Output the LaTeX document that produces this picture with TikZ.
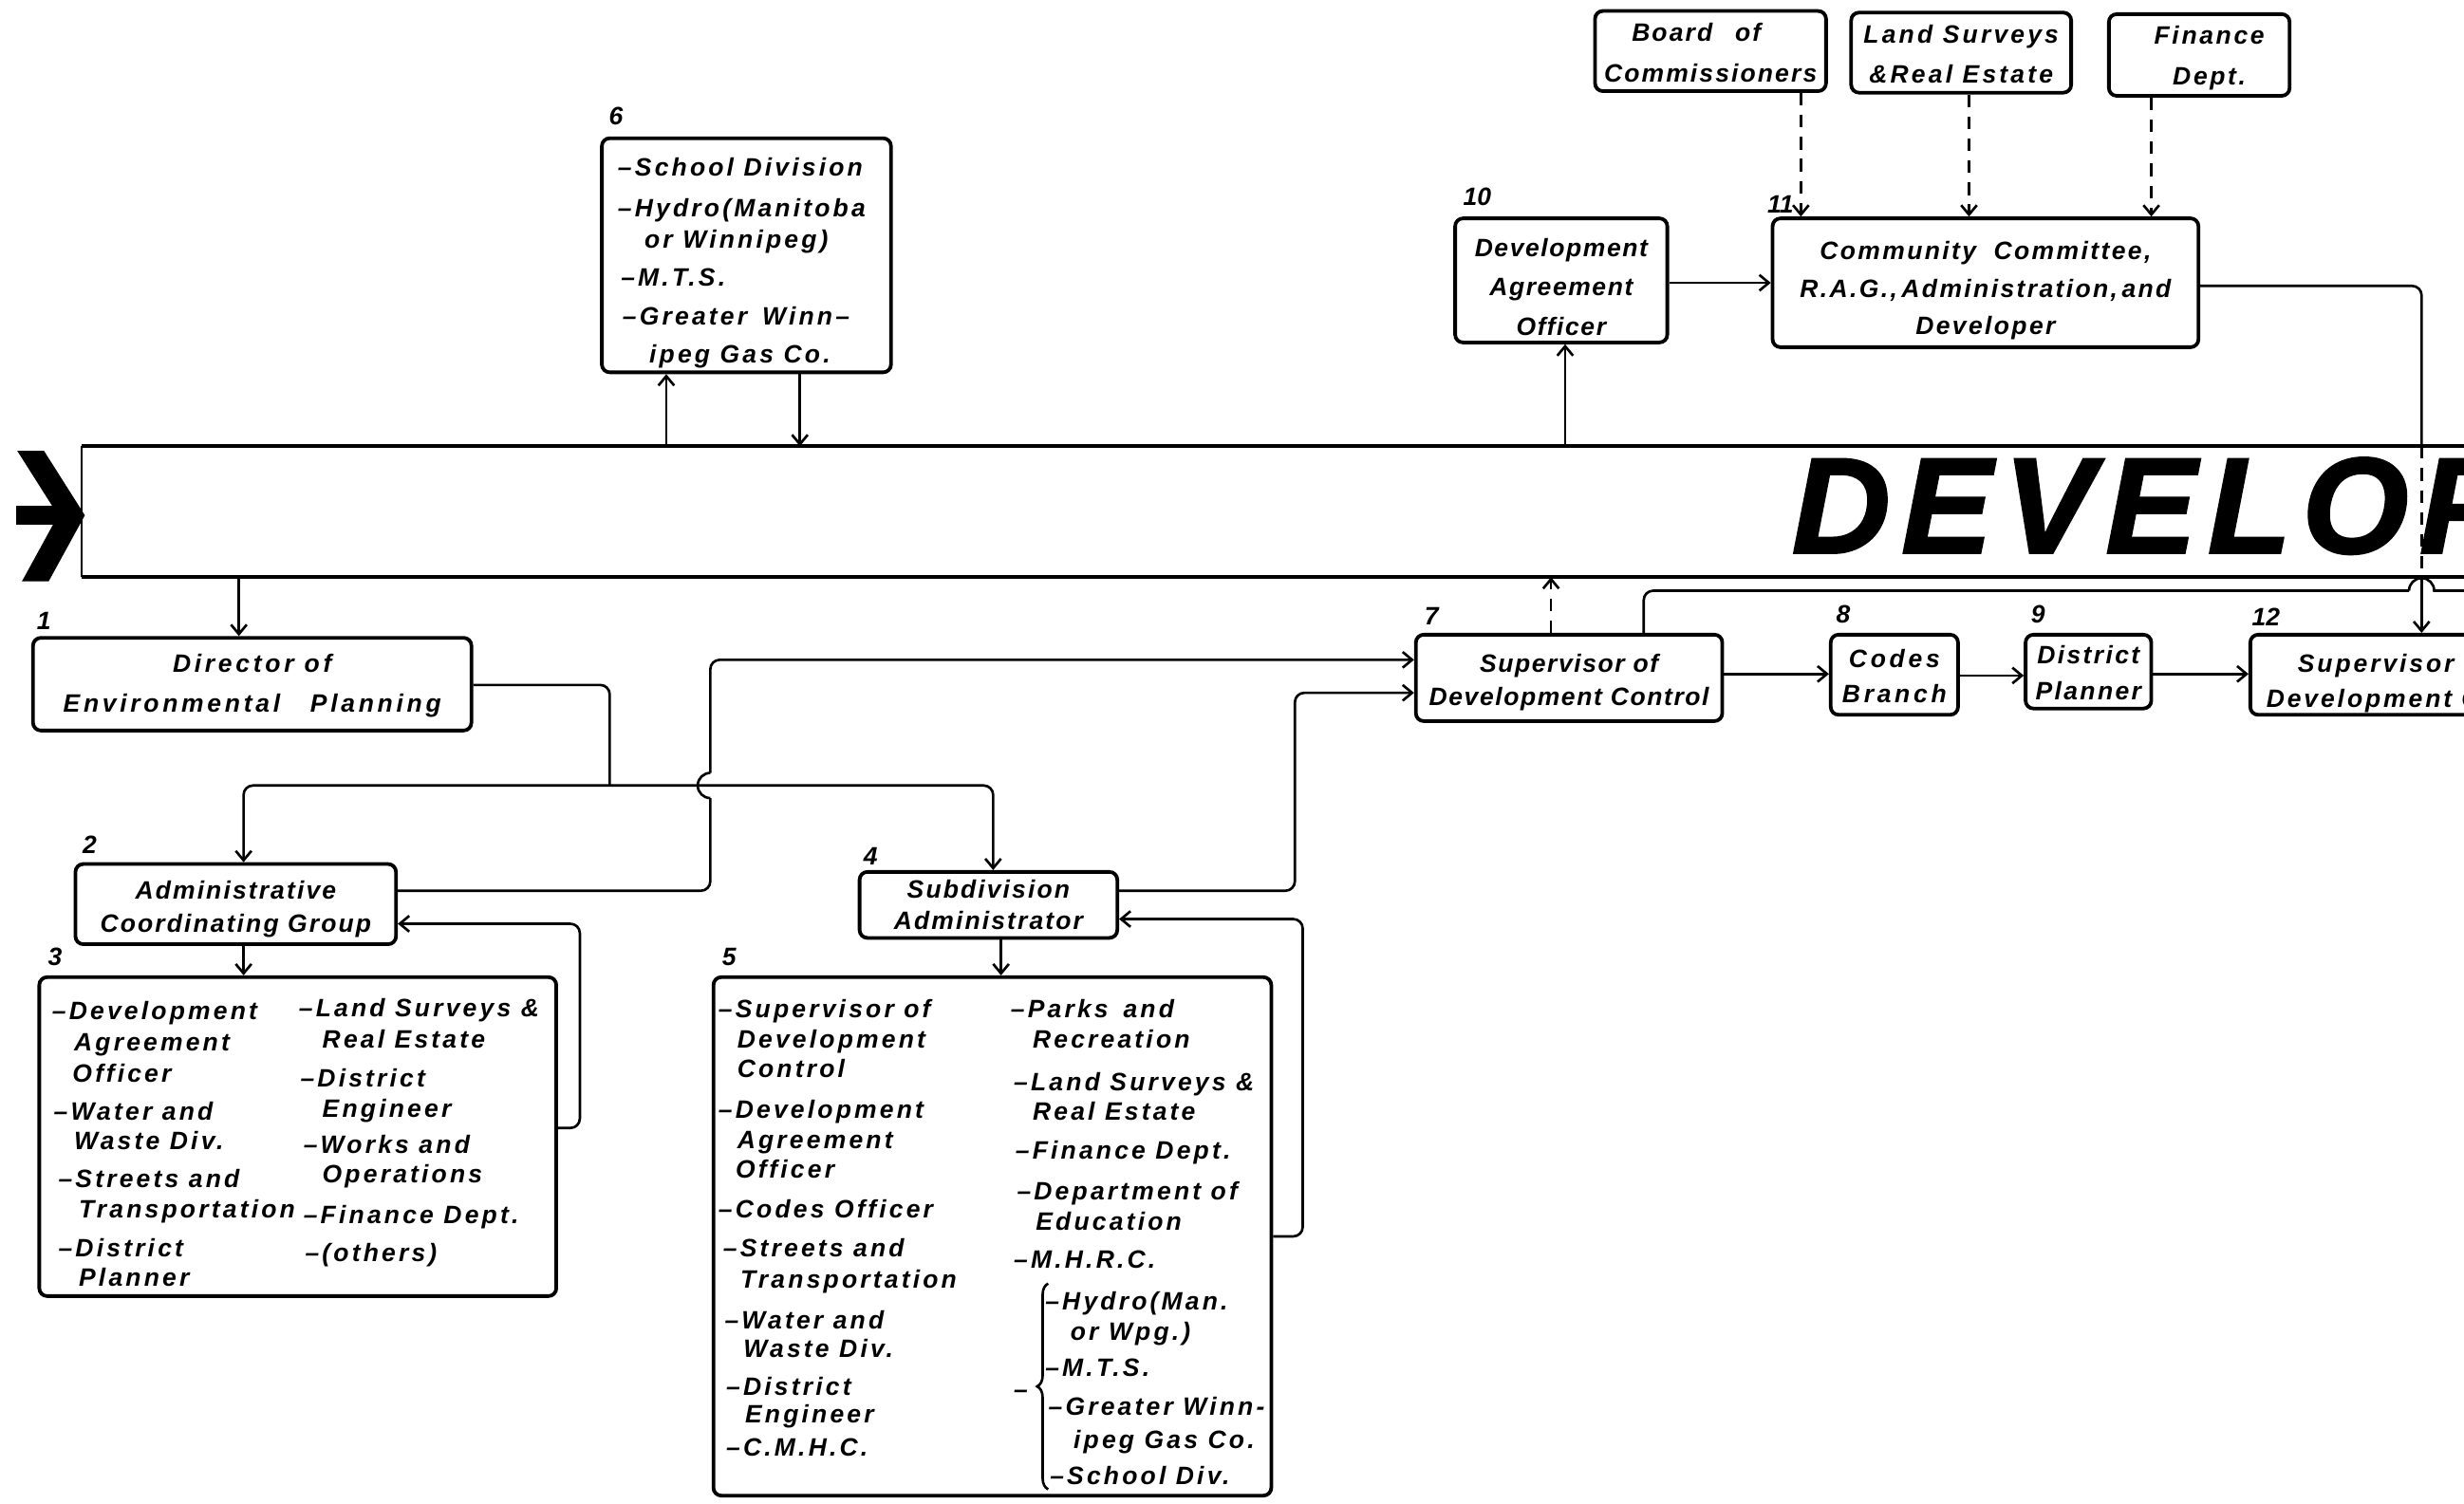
\documentclass[tikz,border=0pt]{standalone}
\usepackage{fontspec}
\usetikzlibrary{arrows.meta,decorations.pathreplacing}
\newfontfamily\labfont{Liberation Sans}
\newfontfamily\bannerfont{Liberation Sans}[LetterSpace=8,FakeBold=1.6]
% label font: tracking #1, baseline skip #2
\newcommand\bx[2]{\labfont\bfseries\itshape\fontsize{16}{#2}\selectfont\addfontfeature{LetterSpace=#1}}

\begin{document}
\begin{tikzpicture}[x=1pt,y=-1pt,
  box/.style={draw,line width=2.3pt,rounded corners=5pt,inner sep=0pt},
  txt/.style={align=center,inner sep=0pt},
  num/.style={font=\bx{0}{20},inner sep=0pt},
  item/.style={anchor=base west,inner sep=0pt},
  conn/.style={line width=1.6pt},
  arr/.style={-{Straight Barb[length=6pt,width=10pt]}},
  birr/.style={{Straight Barb[length=6pt,width=10pt]}-{Straight Barb[length=6pt,width=10pt]}},
  dsh/.style={conn,dash pattern=on 8pt off 6pt},
  rc/.style={rounded corners=6pt},
  rule/.style={line width=2.6pt}
]
\useasboundingbox (0,0) rectangle (1568,957);
\clip (0,0) rectangle (1568,957);

% ---- banner ----
\node[minimum width=1700pt,minimum height=83pt,inner sep=0pt,anchor=north west] (ban) at (52,284) {};
\draw[rule] (ban.north west) -- (ban.north east);
\draw[rule] (ban.south west) -- (ban.south east);
\draw[line width=1.6pt] (ban.north west) -- (ban.south west);
\node[anchor=base west,inner sep=0pt,font=\bannerfont\bfseries\itshape\fontsize{87}{87}\selectfont] (title) at (1140,352) {DEVELOP};
% entry chevron
\fill (11,287) -- (28,287) -- (54,328) -- (31,370) -- (14,370) -- (37,328) -- cycle;
\fill (10,322) rectangle (45,334);

% ---- boxes ----
\node[box,minimum width=279pt,minimum height=59pt] (b1) at (160.5,435.5) {};
\node[box,minimum width=204pt,minimum height=51pt] (b2) at (150,575.5) {};
\node[box,minimum width=329pt,minimum height=203pt] (b3) at (189.5,723.5) {};
\node[box,minimum width=164pt,minimum height=42pt] (b4) at (629,576) {};
\node[box,minimum width=355pt,minimum height=330pt] (b5) at (631.5,787) {};
\node[box,minimum width=184pt,minimum height=149pt] (b6) at (475,162.5) {};
\node[box,minimum width=195pt,minimum height=55pt] (b7) at (998.5,431.5) {};
\node[box,minimum width=81pt,minimum height=51pt] (b8) at (1205.5,429.5) {};
\node[box,minimum width=80pt,minimum height=47pt] (b9) at (1329,427.5) {};
\node[box,minimum width=228pt,minimum height=51pt] (b12) at (1546,429.5) {};
\node[box,minimum width=135pt,minimum height=79pt] (b10) at (993.5,178.5) {};
\node[box,minimum width=271pt,minimum height=82pt] (b11) at (1263.5,180) {};
\node[box,minimum width=147pt,minimum height=51pt] (bc) at (1088.5,32.5) {};
\node[box,minimum width=140pt,minimum height=51pt] (ls) at (1248,33.5) {};
\node[box,minimum width=115pt,minimum height=52pt] (fd) at (1399.5,35) {};

% ---- box titles ----
\node[txt,font=\bx{14}{25}] (t1) at ([yshift=-1pt]b1.center) {Director of\\Environmental\hspace{1.2em}Planning};
\node[txt,font=\bx{8}{21}] (t2) at ([yshift=-3pt]b2.center) {Administrative\\Coordinating Group};
\node[txt,font=\bx{8}{20}] (t4) at (b4.center) {Subdivision\\Administrator};
\node[txt,font=\bx{6}{21}] (t7) at ([yshift=-3pt]b7.center) {Supervisor of\\Development Control};
\node[txt,font=\bx{14}{22}] (t8) at ([yshift=-1pt]b8.center) {Codes\\Branch};
\node[txt,font=\bx{9}{23}] (t9) at ([yshift=-1pt]b9.center) {District\\Planner};
\node[item,font=\bx{11}{22}] (t12a) at (1462,428) {Supervisor of};
\node[item,font=\bx{11}{22}] (t12b) at (1442,450) {Development Control};
\node[txt,font=\bx{6}{25}] (t10) at ([yshift=-4pt]b10.center) {Development\\Agreement\\Officer};
\node[txt,font=\bx{9}{24}] (t11) at ([yshift=-5pt]b11.center) {Community\hspace{0.7em}Committee,\\R.A.G.,\,Administration,\,and\\Developer};
\node[txt,font=\bx{8}{26}] (tc) at ([yshift=-1pt]bc.center) {Board\hspace{0.9em}of\hspace*{18pt}\\Commissioners};
\node[txt,font=\bx{12}{25}] (tl) at ([yshift=-1pt]ls.center) {Land Surveys\\\&Real Estate};
\node[txt,font=\bx{10}{26}] (tf) at ([yshift=-2pt]fd.center) {\hspace{0.8em}Finance\\\hspace{0.8em}Dept.};

% ---- step numbers ----
\node[num] (n1) at (28,395) {1};
\node[num] (n2) at (57,538) {2};
\node[num] (n3) at (35,609) {3};
\node[num] (n4) at (554,545) {4};
\node[num] (n5) at (464,609) {5};
\node[num] (n6) at (392,74) {6};
\node[num] (n7) at (911,392) {7};
\node[num] (n8) at (1173,391) {8};
\node[num] (n9) at (1297,391) {9};
\node[num] (n10) at (940,125) {10};
\node[num] (n11) at (1133,130) {11};
\node[num] (n12) at (1442,393) {12};

% ---- member lists ----
\begin{scope}[every node/.style={font=\bx{12}{20}}]
\foreach \x/\y/\t [count=\i] in {33/649/{–Development},47/669/{Agreement},46/689/{Officer},
  34/713/{–Water and},47/732/{Waste Div.},37/756/{–Streets and},50/775/{Transportation},
  37/800/{–District},50/819/{Planner}}
  \node[item] (p3a\i) at (\x,\y) {\t};
\foreach \x/\y/\t [count=\i] in {190/647/{–Land Surveys \&},205/667/{Real Estate},191/692/{–District},
  205/711/{Engineer},193/734/{–Works and},205/753/{Operations},193/779/{–Finance Dept.},194/803/{–(others)}}
  \node[item] (p3b\i) at (\x,\y) {\t};
\foreach \x/\y/\t [count=\i] in {457/648/{–Supervisor of},469/667/{Development},469/686/{Control},
  457/712/{–Development},469/731/{Agreement},468/750/{Officer},457/775/{–Codes Officer},
  460/800/{–Streets and},471/820/{Transportation},461/846/{–Water and},473/864/{Waste Div.},
  462/888/{–District},474/906/{Engineer},462/927/{–C.M.H.C.}}
  \node[item] (p5a\i) at (\x,\y) {\t};
\foreach \x/\y/\t [count=\i] in {643/648/{–Parks\hspace{0.6em}and},657/667/{Recreation},645/694/{–Land Surveys \&},
  657/713/{Real Estate},646/738/{–Finance Dept.},647/764/{–Department of},659/783/{Education},
  645/807/{–M.H.R.C.},645/890/{–},665/834/{–Hydro(Man.},681/853/{or Wpg.)},665/876/{–M.T.S.},
  667/901/{–Greater Winn-},683/922/{ipeg Gas Co.},668/945/{–School Div.}}
  \node[item] (p5b\i) at (\x,\y) {\t};
\foreach \x/\y/\t [count=\i] in {393/112/{–School Division},393/138/{–Hydro(Manitoba},410/158/{or Winnipeg)},
  395/182/{–M.T.S.},396/207/{–Greater\hspace{0.6em}Winn–},413/231/{ipeg Gas\hspace{0.4em}Co.}}
  \node[item] (p6\i) at (\x,\y) {\t};
\end{scope}
% brace grouping the utilities
\draw[conn,decorate,decoration={brace,amplitude=7pt}] (667,948) -- (667,817);

% ---- connectors ----
\draw[conn,arr] (152,0 |- ban.south) -- (152,0 |- b1.north);
\draw[conn,rc] (b1.east |- 0,436) -| (388,500);
\draw[conn,birr,rc] (155,0 |- b2.north) |- (632,500) -- (632,0 |- b4.north);
\draw[conn,rc] (b2.east |- 0,567) -| (452,508);
\draw[conn] (452,508) arc[start angle=-90,end angle=-270,radius=8pt];
\draw[conn,arr,rc] (452,492) |- (b7.west |- 0,420);
\draw[conn,arr] (155,0 |- b2.south) -- (155,0 |- b3.north);
\draw[conn,arr,rc] (b3.east |- 0,718) -- (369,718) |- (b2.east |- 0,588);
\draw[conn,arr,rc] (b4.east |- 0,567) -- (824,567) |- (b7.west |- 0,441);
\draw[conn,arr] (637,0 |- b4.south) -- (637,0 |- b5.north);
\draw[conn,arr,rc] (b5.east |- 0,787) -- (829,787) |- (b4.east |- 0,585);
\draw[conn,arr] (b7.east |- 0,429) -- (b8.west |- 0,429);
\draw[conn,arr] (b8.east |- 0,430) -- (b9.west |- 0,430);
\draw[conn,arr] (b9.east |- 0,429) -- (b12.west |- 0,429);
\draw[dsh,arr] (987,0 |- b7.north) -- (987,0 |- ban.south);
\draw[conn,rc] (1046,0 |- b7.north) |- (1533,376);
\draw[conn] (1533,376) arc[start angle=180,end angle=0,radius=8pt] -- (1600,376);
\draw[conn,arr] (424,0 |- ban.north) -- (424,0 |- b6.south);
\draw[conn,arr] (509,0 |- b6.south) -- (509,0 |- ban.north);
\draw[conn,arr] (996,0 |- ban.north) -- (996,0 |- b10.south);
\draw[conn,arr] (b10.east |- 0,180) -- (b11.west |- 0,180);
\draw[conn,rc] (b11.east |- 0,182) -| (1541,0 |- ban.north);
\draw[dsh] (1541,0 |- ban.north) -- (1541,0 |- ban.south);
\draw[conn,arr] (1541,0 |- ban.south) -- (1541,0 |- b12.north);
\draw[dsh,arr] (1146,0 |- bc.south) -- (1146,0 |- b11.north);
\draw[dsh,arr] (1253,0 |- ls.south) -- (1253,0 |- b11.north);
\draw[dsh,arr] (1369,0 |- fd.south) -- (1369,0 |- b11.north);
\end{tikzpicture}
\end{document}
